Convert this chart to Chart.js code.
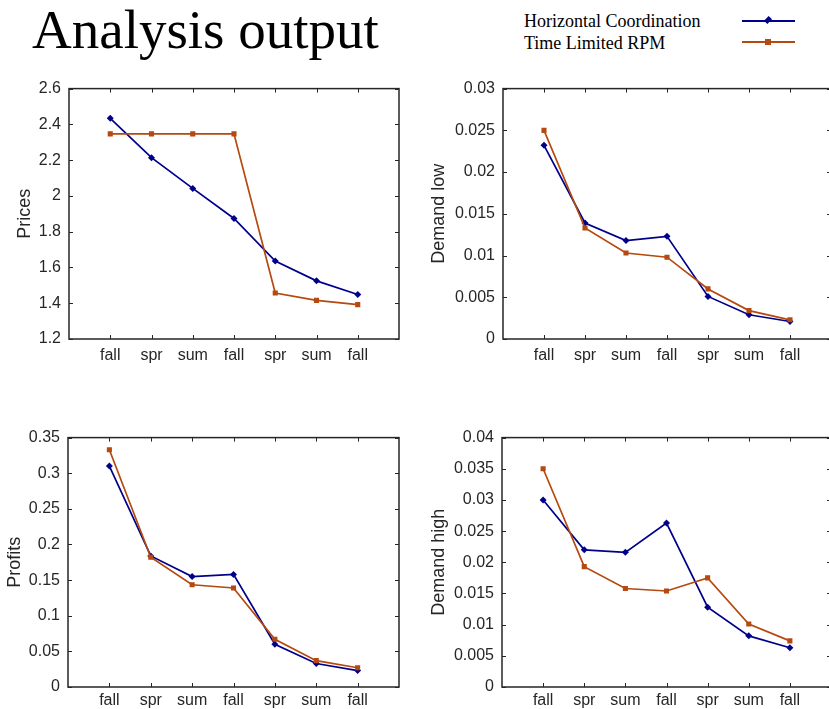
<!DOCTYPE html>
<html>
<head>
<meta charset="utf-8">
<script src="https://cdn.jsdelivr.net/npm/chart.js@4"></script>
<style>
body { margin: 0; width: 829px; height: 709px; overflow: hidden; background: #fff; position: relative; }
#title { position: absolute; left: 32px; top: -2px; font: 55px "Liberation Serif", serif; color: #000; white-space: nowrap; }
.leg { position: absolute; left: 524px; font: 18px "Liberation Serif", serif; line-height: 22px; color: #000; white-space: nowrap; }
.sample { position: absolute; left: 742px; width: 53px; height: 2px; }
.mark { position: absolute; }
canvas.panel { position: absolute; }
</style>
</head>
<body>
<div id="title">Analysis output</div>
<div class="leg" style="top:10px">Horizontal Coordination</div>
<div class="leg" style="top:32px">Time Limited RPM</div>
<div class="sample" style="top:20px; background:#00008B"></div>
<div class="mark" style="left:765px; top:17px; width:6px; height:6px; background:#00008B; transform:rotate(45deg) scale(0.8,1.1)"></div>
<div class="sample" style="top:41px; background:#B5490F"></div>
<div class="mark" style="left:765px; top:39px; width:6px; height:6px; background:#B5490F"></div>

<canvas id="cPrices" class="panel" width="415" height="304" style="left:0; top:71px"></canvas>
<canvas id="cDemandLow" class="panel" width="415" height="304" style="left:420px; top:71px"></canvas>
<canvas id="cProfits" class="panel" width="415" height="289" style="left:0; top:420px"></canvas>
<canvas id="cDemandHigh" class="panel" width="415" height="289" style="left:420px; top:420px"></canvas>

<script>
// --- DATA ---
const seasons = ['fall', 'spr', 'sum', 'fall', 'spr', 'sum', 'fall'];
const seriesNames = ['Horizontal Coordination', 'Time Limited RPM'];

const pricesHC = [2.434, 2.214, 2.042, 1.874, 1.636, 1.525, 1.449];
const pricesRPM = [2.347, 2.347, 2.347, 2.347, 1.457, 1.416, 1.392];
const demandLowHC = [0.0232, 0.0139, 0.0118, 0.0123, 0.0051, 0.0029, 0.0021];
const demandLowRPM = [0.0250, 0.0133, 0.0103, 0.0098, 0.0060, 0.0034, 0.0023];
const profitsHC = [0.310, 0.184, 0.155, 0.158, 0.060, 0.033, 0.023];
const profitsRPM = [0.333, 0.182, 0.1435, 0.139, 0.067, 0.037, 0.027];
const demandHighHC = [0.0300, 0.0220, 0.0216, 0.0263, 0.0128, 0.0082, 0.0063];
const demandHighRPM = [0.0350, 0.0193, 0.0158, 0.0154, 0.0175, 0.0101, 0.0074];

const BLUE = '#00008B', ORANGE = '#B5490F', AXIS = '#262626';
const SANS = '"Liberation Sans", Arial, sans-serif';

// --- BOX + INWARD TICKS (matlab style) ---
const boxTicks = {
    id: 'boxTicks',
    afterDraw(chart) {
        const { ctx, chartArea: a, scales: { x, y } } = chart;
        ctx.save();
        ctx.strokeStyle = AXIS;
        ctx.lineWidth = 1.5;
        ctx.strokeRect(a.left, a.top, a.right - a.left, a.bottom - a.top);
        ctx.lineWidth = 1;
        ctx.beginPath();
        x.ticks.forEach(t => {
            const px = Math.round(x.getPixelForValue(t.value)) + 0.5;
            ctx.moveTo(px, a.bottom); ctx.lineTo(px, a.bottom - 4);
            ctx.moveTo(px, a.top); ctx.lineTo(px, a.top + 4);
        });
        y.ticks.forEach(t => {
            const py = Math.round(y.getPixelForValue(t.value)) + 0.5;
            ctx.moveTo(a.left, py); ctx.lineTo(a.left + 4, py);
            ctx.moveTo(a.right, py); ctx.lineTo(a.right - 4, py);
        });
        ctx.stroke();
        ctx.restore();
    }
};

const toPts = arr => arr.map((v, i) => ({ x: i + 1, y: v }));
const fmt = v => String(Number(v.toFixed(4)));

function makePanel(id, label, hc, rpm, yMin, yMax, yStep, lay) {
    new Chart(document.getElementById(id), {
        type: 'line',
        data: {
            datasets: [
                { label: seriesNames[0], data: toPts(hc), borderColor: BLUE, backgroundColor: BLUE, borderWidth: 1.7,
                  pointStyle: 'rectRot', pointRadius: 3.5, pointBorderWidth: 0, tension: 0, order: 1 },
                { label: seriesNames[1], data: toPts(rpm), borderColor: ORANGE, backgroundColor: ORANGE, borderWidth: 1.7,
                  pointStyle: 'rect', pointRadius: 3.6, pointBorderWidth: 0, tension: 0, order: 0 }
            ]
        },
        options: {
            responsive: false,
            animation: false,
            layout: { padding: { top: 0, right: lay.right, left: 0, bottom: 0 } },
            plugins: { legend: { display: false }, tooltip: { enabled: false } },
            scales: {
                x: {
                    type: 'linear', min: 0, max: 8,
                    grid: { display: false, drawTicks: false },
                    border: { display: false },
                    afterBuildTicks: s => { s.ticks = seasons.map((_, i) => ({ value: i + 1 })); },
                    afterFit: s => { s.height = lay.xh; },
                    ticks: {
                        autoSkip: false, maxRotation: 0, padding: lay.xp, color: AXIS,
                        font: { family: SANS, size: 16 },
                        callback: v => seasons[v - 1]
                    }
                },
                y: {
                    min: yMin, max: yMax,
                    grid: { display: false, drawTicks: false },
                    border: { display: false },
                    afterFit: s => { s.width = lay.yw; },
                    ticks: {
                        stepSize: yStep, padding: 8, color: AXIS,
                        font: { family: SANS, size: 16 },
                        callback: v => fmt(v)
                    },
                    title: {
                        display: true, text: label, color: AXIS,
                        padding: { top: lay.tp, bottom: 0 },
                        font: { family: SANS, size: 18 }
                    }
                }
            }
        },
        plugins: [boxTicks]
    });
}

makePanel('cPrices', 'Prices', pricesHC, pricesRPM, 1.2, 2.6, 0.2,
    { right: 16, yw: 69, xh: 36, xp: 7, tp: 14.2 });
makePanel('cDemandLow', 'Demand low', demandLowHC, demandLowRPM, 0, 0.03, 0.005,
    { right: 4, yw: 83, xh: 36, xp: 7, tp: 8.2 });
makePanel('cProfits', 'Profits', profitsHC, profitsRPM, 0, 0.35, 0.05,
    { right: 16, yw: 68, xh: 22, xp: 4, tp: 4.2 });
makePanel('cDemandHigh', 'Demand high', demandHighHC, demandHighRPM, 0, 0.04, 0.005,
    { right: 4, yw: 82, xh: 22, xp: 4, tp: 8.2 });
</script>
</body>
</html>
